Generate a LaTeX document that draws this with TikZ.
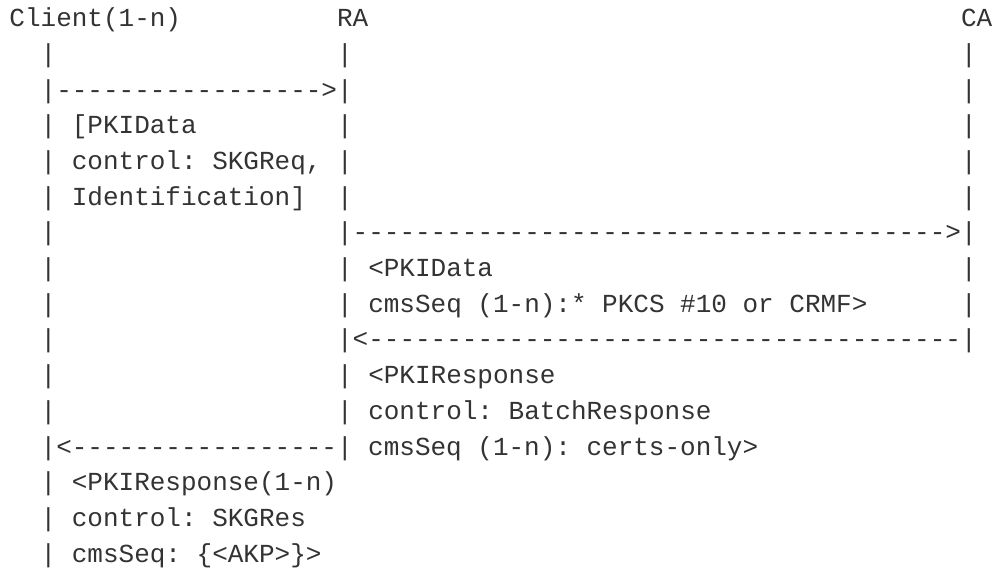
\documentclass[tikz,border=0pt]{standalone}
\usepackage{fontspec}
\newfontfamily\diagmono{Liberation Mono}
\definecolor{ink}{HTML}{333333}
\makeatletter
\newcommand\cellwd{15.6pt}
\newcommand\mline[1]{\@tfor\mch:=#1\do{\makebox[\cellwd][c]{\mch}}}
\makeatother
\tikzset{
  txt/.style={anchor=base west, inner sep=0pt, outer sep=0pt, text=ink,
    font=\diagmono\fontsize{26}{26}\selectfont}
}
\newcommand\seg[4]{\node[txt] (#1) at ({9.5+15.6*#3},{-26.7-35.7*(#2-1)}) {\mline{#4}};}
\begin{document}
\begin{tikzpicture}[x=1pt,y=1pt]
\fill[white] (0,0) rectangle (997,-569);
\useasboundingbox (0,0) rectangle (997,-569);
% row 1: participants
\seg{client}{1}{0}{Client(1-n)}
\seg{ra}{1}{21}{RA}
\seg{ca}{1}{61}{CA}
% row 2
\seg{a2}{2}{2}{|}
\seg{b2}{2}{21}{|}
\seg{c2}{2}{61}{|}
% row 3
\seg{a3}{3}{2}{|----------------->|}
\seg{c3}{3}{61}{|}
% row 4
\seg{a4}{4}{2}{|~[PKIData}
\seg{b4}{4}{21}{|}
\seg{c4}{4}{61}{|}
% row 5
\seg{a5}{5}{2}{|~control:~SKGReq,~|}
\seg{c5}{5}{61}{|}
% row 6
\seg{a6}{6}{2}{|~Identification]}
\seg{b6}{6}{21}{|}
\seg{c6}{6}{61}{|}
% row 7
\seg{a7}{7}{2}{|}
\seg{b7}{7}{21}{|-------------------------------------->|}
% row 8
\seg{a8}{8}{2}{|}
\seg{b8}{8}{21}{|~<PKIData}
\seg{c8}{8}{61}{|}
% row 9
\seg{a9}{9}{2}{|}
\seg{b9}{9}{21}{|~cmsSeq~(1-n):*~PKCS~\#10~or~CRMF>}
\seg{c9}{9}{61}{|}
% row 10
\seg{a10}{10}{2}{|}
\seg{b10}{10}{21}{|<--------------------------------------|}
% row 11
\seg{a11}{11}{2}{|}
\seg{b11}{11}{21}{|~<PKIResponse}
% row 12
\seg{a12}{12}{2}{|}
\seg{b12}{12}{21}{|~control:~BatchResponse}
% row 13
\seg{a13}{13}{2}{|<-----------------|~cmsSeq~(1-n):~certs-only>}
% rows 14-16
\seg{a14}{14}{2}{|~<PKIResponse(1-n)}
\seg{a15}{15}{2}{|~control:~SKGRes}
\seg{a16}{16}{2}{|~cmsSeq:~\{<AKP>\}>}
\end{tikzpicture}
\end{document}
